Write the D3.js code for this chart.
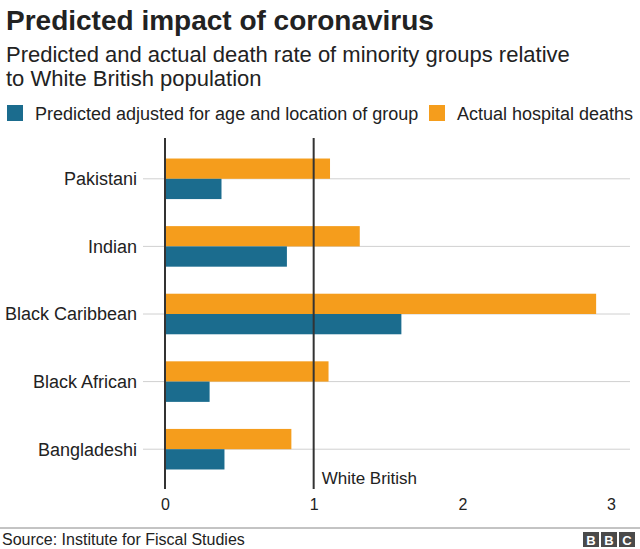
<!DOCTYPE html>
<html>
<head>
<meta charset="utf-8">
<script src="https://cdn.jsdelivr.net/npm/d3@7"></script>
<style>
  body { margin: 0; background: #fff; }
  svg { display: block; font-family: "Liberation Sans", Arial, sans-serif; }
</style>
</head>
<body>
<svg id="chart" width="640" height="549"></svg>
<script>
const categories = ["Pakistani", "Indian", "Black Caribbean", "Black African", "Bangladeshi"];
const predicted = [0.38, 0.82, 1.59, 0.30, 0.40];
const actual = [1.11, 1.31, 2.90, 1.10, 0.85];
const xTicks = [0, 1, 2, 3];
const seriesNames = ["Predicted adjusted for age and location of group", "Actual hospital deaths"];
const colours = ["#1b6c8e", "#f59d1c"];

const svg = d3.select("#chart");

// headings
svg.append("text").attr("x", 6).attr("y", 30)
    .attr("font-size", 28).attr("font-weight", "bold").attr("fill", "#222")
    .text("Predicted impact of coronavirus");
svg.append("text").attr("x", 6).attr("y", 62)
    .attr("font-size", 22).attr("fill", "#222")
    .text("Predicted and actual death rate of minority groups relative");
svg.append("text").attr("x", 6).attr("y", 86)
    .attr("font-size", 22).attr("fill", "#222")
    .text("to White British population");

// legend
const legendX = [7, 429];
seriesNames.forEach(function (name, i) {
    svg.append("rect").attr("x", legendX[i]).attr("y", 105)
        .attr("width", 16).attr("height", 16).attr("fill", colours[i]);
    svg.append("text").attr("x", legendX[i] + 28).attr("y", 120)
        .attr("font-size", 18).attr("fill", "#222").text(name);
});

const x = d3.scaleLinear().domain([0, 3]).range([165, 611]);
const y = d3.scaleBand().domain(categories).range([145, 483])
    .paddingInner(0.4).paddingOuter(0.2);
const half = y.bandwidth() / 2;

// gridlines at each group centre
const g = svg.append("g");
g.selectAll("line.grid").data(categories).enter().append("line")
    .attr("class", "grid")
    .attr("x1", 143).attr("x2", 630)
    .attr("y1", function (d) { return y(d) + half; })
    .attr("y2", function (d) { return y(d) + half; })
    .attr("stroke", "#d0d0d0").attr("stroke-width", 1);

// category labels
g.selectAll("text.cat").data(categories).enter().append("text")
    .attr("class", "cat")
    .attr("x", 137)
    .attr("y", function (d) { return y(d) + half; })
    .attr("dy", "0.35em")
    .attr("text-anchor", "end")
    .attr("font-size", 18).attr("fill", "#222")
    .text(function (d) { return d; });

// bars
g.selectAll("rect.actual").data(actual).enter().append("rect")
    .attr("x", x(0))
    .attr("y", function (d, i) { return y(categories[i]); })
    .attr("width", function (d) { return x(d) - x(0); })
    .attr("height", half)
    .attr("fill", colours[1]);
g.selectAll("rect.pred").data(predicted).enter().append("rect")
    .attr("x", x(0))
    .attr("y", function (d, i) { return y(categories[i]) + half; })
    .attr("width", function (d) { return x(d) - x(0); })
    .attr("height", half)
    .attr("fill", colours[0]);

// zero line and White British reference line
[0, 1].forEach(function (v) {
    g.append("line")
        .attr("x1", x(v)).attr("x2", x(v))
        .attr("y1", 138).attr("y2", 489)
        .attr("stroke", "#333").attr("stroke-width", 2);
});
g.append("text").attr("x", x(1) + 8).attr("y", 484)
    .attr("font-size", 17).attr("fill", "#222").text("White British");

// x axis labels
const axis = svg.append("g").attr("transform", "translate(0,510)")
    .call(d3.axisBottom(x).tickValues(xTicks).tickFormat(d3.format("d"))
        .tickSize(0).tickPadding(0));
axis.select(".domain").remove();
axis.selectAll("text")
    .attr("dy", 0)
    .attr("font-size", 16).attr("fill", "#222")
    .attr("font-family", "Liberation Sans, Arial, sans-serif");

// footer
svg.append("line").attr("x1", 0).attr("x2", 640).attr("y1", 528).attr("y2", 528)
    .attr("stroke", "#888").attr("stroke-width", 1);
svg.append("text").attr("x", 2).attr("y", 545)
    .attr("font-size", 16).attr("fill", "#222")
    .text("Source: Institute for Fiscal Studies");
["B", "B", "C"].forEach(function (c, i) {
    svg.append("rect").attr("x", 583 + i * 18).attr("y", 532)
        .attr("width", 16).attr("height", 15).attr("fill", "#4a4a4a");
    svg.append("text").attr("x", 591 + i * 18).attr("y", 544.5)
        .attr("text-anchor", "middle").attr("font-size", 13)
        .attr("font-weight", "bold").attr("fill", "#fff").text(c);
});
</script>
</body>
</html>
